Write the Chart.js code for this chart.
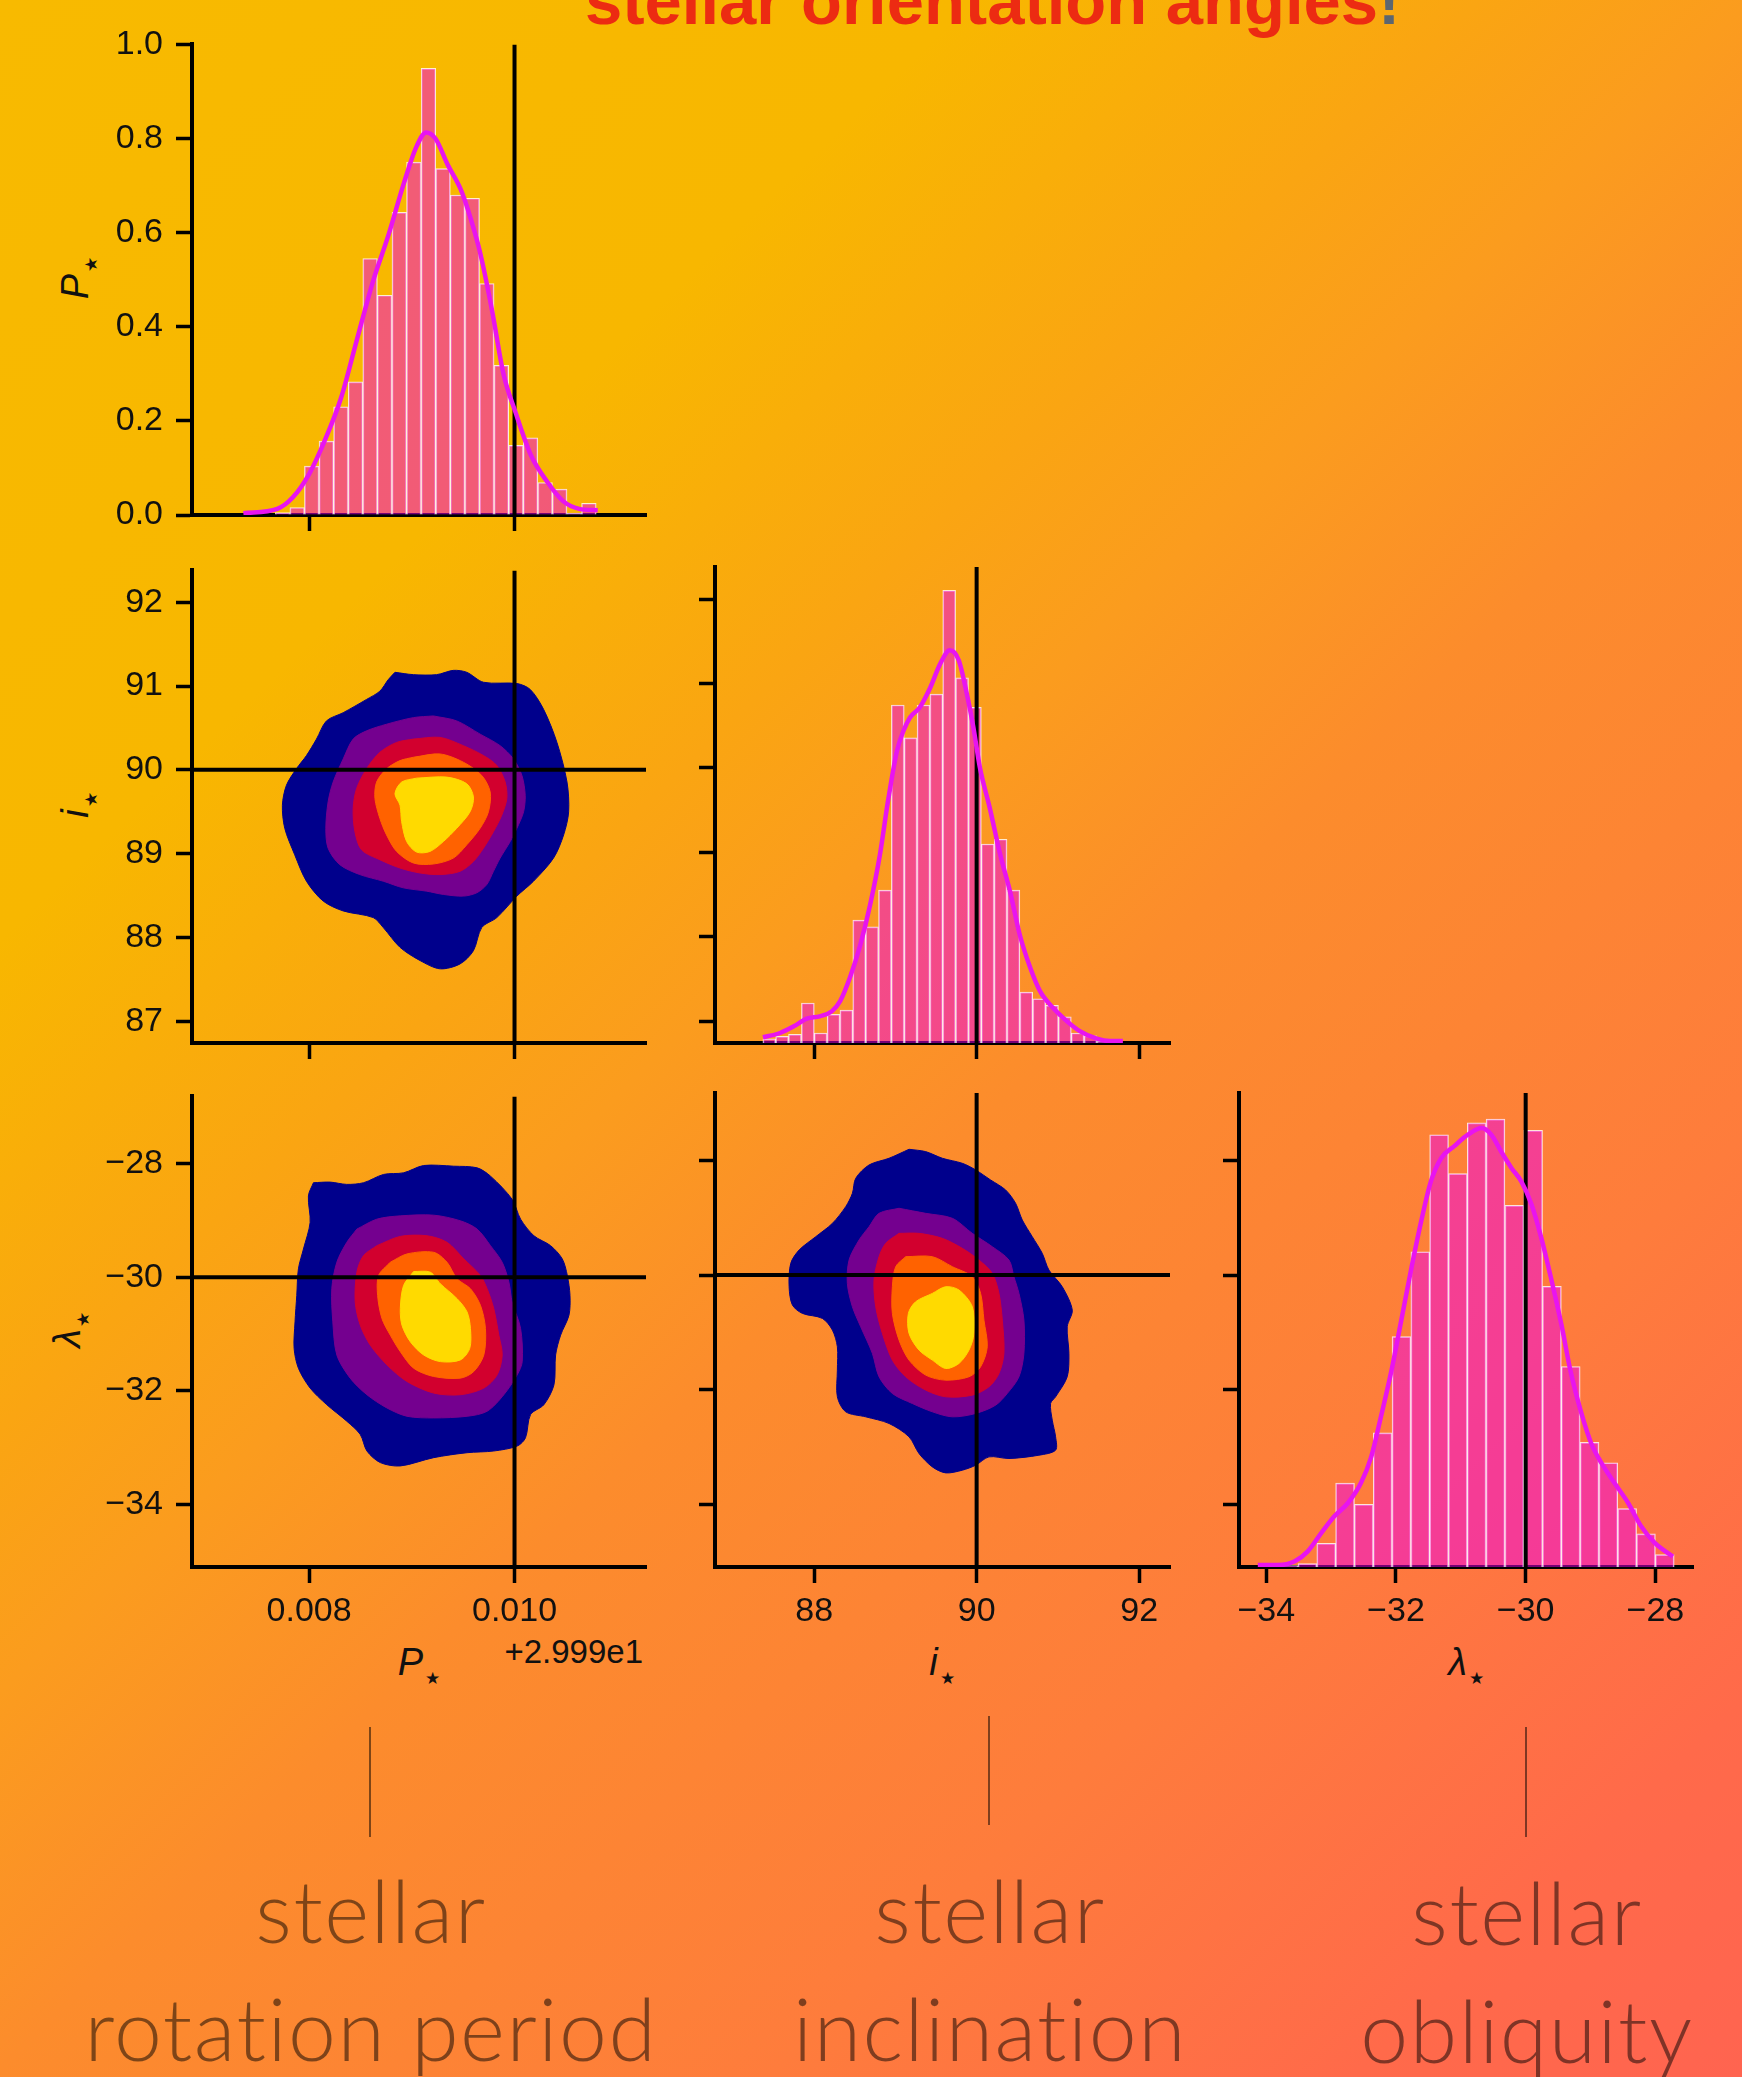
<!DOCTYPE html>
<html>
<head>
<meta charset="utf-8">
<script src="https://cdn.jsdelivr.net/npm/chart.js@4.4.1/dist/chart.umd.min.js"></script>
<style>
html, body { margin: 0; padding: 0; }
body {
  width: 1742px; height: 2077px; position: relative; overflow: hidden;
  background: linear-gradient(136deg, #F8BA00 0%, #F8B700 25%, #FAA512 38%, #FB9C1E 45%, #FC8C2C 55%, #FE7C3C 75%, #FF6A4A 90%, #FF6450 100%);
}
.pn { position: absolute; }
.title { position: absolute; left: 585px; top: -32px; font: bold 67px 'Liberation Sans', Arial, sans-serif; line-height: 66px; color: #EC2B12; white-space: nowrap; }
.title span { color: #5C6670; }
.offs { position: absolute; right: 1099px; top: 1635px; font: 33px 'Liberation Sans', Arial, sans-serif; line-height: 33px; color: #111; }
.ax { position: absolute; font: italic 38px 'Liberation Sans', Arial, sans-serif; line-height: 38px; color: #111; white-space: nowrap; }
.ax .st { font-style: normal; font-size: 17px; position: relative; top: 9px; margin-left: 2px; }
.ax.b { top: 1643px; transform: translateX(-50%); }
.ax.l { transform: translate(-50%, -50%) rotate(-90deg); }
.lbl { position: absolute; width: 760px; margin-left: -380px; text-align: center; font: 300 86px Lato, sans-serif; letter-spacing: 1.5px; font-variant-ligatures: none; line-height: 118px; color: rgba(0,0,0,0.5); }
.stem { position: absolute; width: 2px; background: rgba(0,0,0,0.5); }
</style>
</head>
<body>
<div class="title">stellar orientation angles<span>!</span></div>
<div class="offs">+2.999e1</div>
<div class="ax b" style="left:419px">P<span class="st">&#9733;</span></div>
<div class="ax b" style="left:942px">i<span class="st">&#9733;</span></div>
<div class="ax b" style="left:1466px">&#955;<span class="st">&#9733;</span></div>
<div class="ax l" style="left:79px;top:278px">P<span class="st">&#9733;</span></div>
<div class="ax l" style="left:79px;top:805px">i<span class="st">&#9733;</span></div>
<div class="ax l" style="left:71px;top:1330px">&#955;<span class="st">&#9733;</span></div>
<div class="stem" style="left:369px;top:1727px;height:110px"></div>
<div class="stem" style="left:988px;top:1716px;height:109px"></div>
<div class="stem" style="left:1525px;top:1727px;height:110px"></div>
<div class="lbl" style="left:371px;top:1851px">stellar<br>rotation period</div>
<div class="lbl" style="left:990px;top:1851px">stellar<br>inclination</div>
<div class="lbl" style="left:1527px;top:1853px">stellar<br>obliquity</div>
<script>
// P* values are relative to the axis offset of +29.99
const truthP = 0.010, truthI = 90, truthL = -30;

const pBins = [0.007742, 0.007884, 0.008026, 0.008168, 0.008310, 0.008452, 0.008594, 0.008736, 0.008878, 0.009020, 0.009162, 0.009304, 0.009446, 0.009588, 0.009730, 0.009872, 0.010014, 0.010156, 0.010298, 0.010440, 0.010582, 0.010724];
const pHist = [0.005, 0.016, 0.104, 0.157, 0.230, 0.283, 0.545, 0.467, 0.643, 0.750, 0.949, 0.736, 0.680, 0.673, 0.492, 0.318, 0.148, 0.164, 0.069, 0.055, 0.004, 0.025];
const pKdeX = [0.00736, 0.00769, 0.00784, 0.00800, 0.00815, 0.00831, 0.00846, 0.00862, 0.00877, 0.00892, 0.00904, 0.00914, 0.00923, 0.00935, 0.00947, 0.00954, 0.00966, 0.00978, 0.00989, 0.01001, 0.01016, 0.01032, 0.01047, 0.01063, 0.01081];
const pKdeY = [0.004, 0.013, 0.037, 0.087, 0.157, 0.248, 0.368, 0.495, 0.593, 0.703, 0.780, 0.813, 0.800, 0.744, 0.695, 0.653, 0.562, 0.436, 0.302, 0.218, 0.127, 0.070, 0.030, 0.013, 0.010];

const iBins = [87.448, 87.606, 87.764, 87.923, 88.081, 88.239, 88.397, 88.555, 88.713, 88.872, 89.030, 89.188, 89.346, 89.504, 89.662, 89.821, 89.979, 90.137, 90.295, 90.453, 90.611, 90.770, 90.928, 91.086, 91.244, 91.402, 91.560];
const iHist = [0.009, 0.014, 0.018, 0.084, 0.021, 0.060, 0.069, 0.258, 0.244, 0.321, 0.710, 0.641, 0.710, 0.733, 0.951, 0.767, 0.705, 0.418, 0.428, 0.321, 0.107, 0.093, 0.079, 0.055, 0.021, 0.015, 0.004];
const iKdeX = [87.37, 87.58, 87.75, 87.91, 88.07, 88.22, 88.32, 88.44, 88.57, 88.69, 88.81, 88.91, 89.02, 89.10, 89.18, 89.30, 89.43, 89.55, 89.67, 89.78, 89.88, 89.96, 90.04, 90.16, 90.29, 90.41, 90.53, 90.66, 90.78, 90.94, 91.11, 91.27, 91.48, 91.64, 91.80];
const iKdeY = [0.012, 0.021, 0.035, 0.051, 0.056, 0.067, 0.088, 0.137, 0.207, 0.291, 0.396, 0.509, 0.614, 0.656, 0.684, 0.705, 0.747, 0.796, 0.825, 0.804, 0.733, 0.663, 0.579, 0.495, 0.396, 0.319, 0.228, 0.158, 0.109, 0.074, 0.046, 0.025, 0.009, 0.004, 0.004];

const lBins = [-33.655, -33.365, -33.075, -32.785, -32.495, -32.205, -31.915, -31.625, -31.335, -31.045, -30.755, -30.465, -30.175, -29.885, -29.595, -29.305, -29.015, -28.725, -28.435, -28.145, -27.855];
const lHist = [0.003, 0.007, 0.050, 0.177, 0.132, 0.283, 0.486, 0.665, 0.912, 0.830, 0.937, 0.945, 0.763, 0.921, 0.592, 0.423, 0.263, 0.220, 0.123, 0.070, 0.026];
const lKdeX = [-34.13, -33.82, -33.56, -33.36, -33.15, -32.95, -32.74, -32.54, -32.38, -32.23, -32.07, -31.92, -31.76, -31.61, -31.46, -31.30, -31.10, -30.89, -30.68, -30.53, -30.38, -30.22, -30.07, -29.91, -29.76, -29.60, -29.45, -29.30, -29.14, -28.99, -28.83, -28.63, -28.42, -28.22, -28.01, -27.73];
const lKdeY = [0.004, 0.004, 0.012, 0.033, 0.072, 0.107, 0.135, 0.177, 0.233, 0.318, 0.414, 0.519, 0.632, 0.730, 0.814, 0.863, 0.888, 0.912, 0.926, 0.912, 0.877, 0.842, 0.814, 0.765, 0.695, 0.604, 0.512, 0.408, 0.324, 0.261, 0.219, 0.177, 0.135, 0.086, 0.051, 0.022];

// KDE contour outlines, [x, y] in data units
const piNavy = [[0.008836,91.164],[0.009015,91.136],[0.009242,91.136],[0.009405,91.187],[0.009535,91.164],[0.009698,91.045],[0.010023,91.030],[0.010153,90.959],[0.010283,90.722],[0.010413,90.327],[0.010511,89.854],[0.010527,89.499],[0.010478,89.223],[0.010380,88.947],[0.010185,88.671],[0.010023,88.493],[0.009828,88.237],[0.009681,88.118],[0.009600,87.842],[0.009470,87.684],[0.009275,87.625],[0.009080,87.724],[0.008885,87.882],[0.008722,88.118],[0.008624,88.237],[0.008332,88.316],[0.008137,88.434],[0.007974,88.671],[0.007860,88.986],[0.007763,89.302],[0.007740,89.578],[0.007779,89.815],[0.007876,90.012],[0.007974,90.170],[0.008072,90.367],[0.008169,90.584],[0.008332,90.682],[0.008559,90.840],[0.008689,90.939],[0.008771,91.077]];
const piPurple = [[0.009210,90.643],[0.009437,90.584],[0.009665,90.426],[0.009860,90.288],[0.009990,90.130],[0.010072,89.933],[0.010104,89.696],[0.010088,89.499],[0.010023,89.302],[0.009958,89.144],[0.009860,88.947],[0.009795,88.789],[0.009730,88.631],[0.009633,88.533],[0.009502,88.493],[0.009307,88.513],[0.009145,88.552],[0.008917,88.592],[0.008722,88.671],[0.008494,88.750],[0.008299,88.868],[0.008185,89.065],[0.008163,89.302],[0.008185,89.617],[0.008234,89.854],[0.008332,90.130],[0.008429,90.367],[0.008559,90.465],[0.008754,90.544],[0.009015,90.623]];
const piRed = [[0.009015,90.367],[0.009275,90.387],[0.009502,90.288],[0.009698,90.170],[0.009828,90.051],[0.009909,89.854],[0.009925,89.657],[0.009876,89.460],[0.009795,89.262],[0.009698,89.065],[0.009600,88.907],[0.009470,88.789],[0.009275,88.750],[0.009080,88.769],[0.008885,88.828],[0.008689,88.927],[0.008511,89.045],[0.008446,89.262],[0.008429,89.538],[0.008462,89.775],[0.008559,90.012],[0.008689,90.209],[0.008852,90.327]];
const piOrange = [[0.009015,90.150],[0.009275,90.189],[0.009502,90.091],[0.009681,89.933],[0.009763,89.736],[0.009746,89.499],[0.009665,89.302],[0.009535,89.105],[0.009405,88.947],[0.009210,88.876],[0.009015,88.888],[0.008852,89.026],[0.008754,89.223],[0.008689,89.420],[0.008641,89.657],[0.008657,89.854],[0.008754,90.012],[0.008885,90.110]];
const piYellow = [[0.009047,89.901],[0.009340,89.913],[0.009535,89.834],[0.009600,89.677],[0.009567,89.499],[0.009437,89.302],[0.009307,89.144],[0.009177,89.026],[0.009047,89.018],[0.008950,89.144],[0.008901,89.381],[0.008885,89.578],[0.008836,89.716],[0.008901,89.854]];

const plNavy = [[0.008042,-28.339],[0.008205,-28.328],[0.008367,-28.368],[0.008530,-28.339],[0.008725,-28.193],[0.008920,-28.164],[0.009115,-28.036],[0.009408,-28.048],[0.009636,-28.077],[0.009766,-28.223],[0.009977,-28.631],[0.010059,-28.980],[0.010189,-29.272],[0.010351,-29.446],[0.010465,-29.679],[0.010514,-29.971],[0.010540,-30.321],[0.010530,-30.670],[0.010449,-31.020],[0.010400,-31.369],[0.010384,-31.894],[0.010286,-32.244],[0.010156,-32.418],[0.010107,-32.826],[0.010026,-32.972],[0.009798,-33.059],[0.009538,-33.089],[0.009213,-33.176],[0.008888,-33.322],[0.008693,-33.263],[0.008563,-33.059],[0.008498,-32.768],[0.008367,-32.535],[0.008172,-32.244],[0.008010,-31.952],[0.007896,-31.603],[0.007854,-31.253],[0.007863,-30.787],[0.007880,-30.321],[0.007896,-29.854],[0.007945,-29.505],[0.008010,-29.038],[0.007993,-28.572]];
const plPurple = [[0.008465,-29.155],[0.008660,-28.980],[0.008888,-28.922],[0.009213,-28.910],[0.009473,-29.009],[0.009636,-29.155],[0.009766,-29.446],[0.009880,-29.738],[0.009945,-30.087],[0.009977,-30.437],[0.010059,-30.903],[0.010075,-31.486],[0.010026,-31.719],[0.009896,-32.069],[0.009733,-32.360],[0.009538,-32.448],[0.009213,-32.477],[0.008953,-32.448],[0.008758,-32.302],[0.008563,-32.069],[0.008400,-31.777],[0.008270,-31.369],[0.008231,-30.787],[0.008221,-30.204],[0.008270,-29.738],[0.008367,-29.388]];
const plRed = [[0.008660,-29.446],[0.008888,-29.283],[0.009148,-29.272],[0.009343,-29.388],[0.009506,-29.679],[0.009668,-29.971],[0.009733,-30.204],[0.009798,-30.554],[0.009847,-31.020],[0.009880,-31.369],[0.009831,-31.719],[0.009701,-31.952],[0.009473,-32.069],[0.009213,-32.040],[0.008953,-31.836],[0.008758,-31.544],[0.008595,-31.195],[0.008498,-30.845],[0.008449,-30.437],[0.008465,-29.913],[0.008530,-29.621]];
const plOrange = [[0.008790,-29.738],[0.008953,-29.592],[0.009213,-29.563],[0.009343,-29.738],[0.009441,-30.029],[0.009571,-30.204],[0.009668,-30.495],[0.009717,-30.903],[0.009701,-31.369],[0.009603,-31.661],[0.009473,-31.777],[0.009213,-31.748],[0.009018,-31.603],[0.008888,-31.311],[0.008790,-31.020],[0.008709,-30.728],[0.008667,-30.321],[0.008676,-29.971]];
const plYellow = [[0.009018,-29.901],[0.009180,-29.913],[0.009278,-30.117],[0.009441,-30.379],[0.009538,-30.612],[0.009571,-30.903],[0.009564,-31.253],[0.009473,-31.457],[0.009278,-31.486],[0.009115,-31.369],[0.008985,-31.136],[0.008904,-30.845],[0.008888,-30.554],[0.008920,-30.146]];

const ilNavy = [[89.168,-27.803],[89.373,-27.844],[89.578,-27.960],[89.824,-28.048],[89.988,-28.164],[90.172,-28.339],[90.357,-28.514],[90.480,-28.747],[90.562,-29.038],[90.685,-29.330],[90.808,-29.621],[90.890,-29.913],[91.054,-30.204],[91.177,-30.612],[91.115,-30.903],[91.136,-31.369],[91.115,-31.777],[90.972,-32.127],[90.910,-32.244],[90.931,-32.535],[90.972,-32.826],[90.972,-33.059],[90.767,-33.147],[90.398,-33.205],[90.152,-33.176],[89.988,-33.322],[89.824,-33.409],[89.619,-33.456],[89.455,-33.351],[89.291,-33.118],[89.168,-32.826],[88.922,-32.593],[88.635,-32.477],[88.389,-32.389],[88.286,-32.127],[88.286,-31.661],[88.286,-31.253],[88.225,-30.962],[88.102,-30.758],[87.856,-30.670],[87.733,-30.524],[87.692,-30.204],[87.712,-29.796],[87.815,-29.563],[88.020,-29.330],[88.225,-29.097],[88.389,-28.805],[88.471,-28.572],[88.512,-28.310],[88.676,-28.077],[88.922,-27.960]];
const ilPurple = [[89.045,-28.834],[89.373,-28.922],[89.701,-29.009],[89.947,-29.272],[90.193,-29.505],[90.398,-29.738],[90.459,-30.029],[90.521,-30.321],[90.582,-30.787],[90.582,-31.369],[90.521,-31.777],[90.377,-32.069],[90.234,-32.273],[89.988,-32.418],[89.701,-32.477],[89.455,-32.389],[89.209,-32.244],[88.963,-32.069],[88.799,-31.777],[88.717,-31.369],[88.573,-30.903],[88.471,-30.554],[88.409,-30.146],[88.430,-29.738],[88.553,-29.388],[88.676,-29.155],[88.799,-28.922]];
const ilRed = [[89.045,-29.272],[89.291,-29.272],[89.578,-29.359],[89.824,-29.534],[90.029,-29.738],[90.193,-29.971],[90.275,-30.321],[90.316,-30.787],[90.336,-31.369],[90.275,-31.719],[90.152,-31.952],[89.947,-32.098],[89.619,-32.127],[89.373,-32.010],[89.127,-31.777],[88.963,-31.486],[88.840,-31.020],[88.758,-30.554],[88.737,-30.087],[88.799,-29.679],[88.881,-29.446]];
const ilOrange = [[89.127,-29.679],[89.455,-29.679],[89.701,-29.854],[89.947,-30.029],[90.049,-30.321],[90.090,-30.787],[90.131,-31.253],[90.049,-31.603],[89.906,-31.777],[89.619,-31.836],[89.373,-31.748],[89.168,-31.486],[89.045,-31.136],[88.963,-30.670],[88.963,-30.204],[89.004,-29.854]];
const ilYellow = [[89.455,-30.321],[89.619,-30.204],[89.783,-30.262],[89.947,-30.554],[89.967,-31.020],[89.906,-31.311],[89.783,-31.544],[89.619,-31.632],[89.455,-31.486],[89.291,-31.311],[89.168,-31.020],[89.160,-30.670],[89.250,-30.466]];

// tick values and axis ranges
const densTicks = [0, 0.2, 0.4, 0.6, 0.8, 1.0];
const pTicks = [0.008, 0.010];
const iTicks = [88, 90, 92];
const iTicksY = [87, 88, 89, 90, 91, 92];
const lTicks = [-34, -32, -30, -28];
const pRange = [0.00686, 0.01128];
const iRangeX = [86.78, 92.38];
const iRangeY = [86.74, 92.38];
const lRangeX = [-34.42, -27.42];
const lRangeY = [-35.10, -26.82];

// panel boxes in page pixels
const COL_L = [192, 715, 1239], COL_R = [646, 1170, 1693];
const ROW_T = [41, 567, 1093], ROW_B = [515, 1043, 1567];
const PAD_T = 30, PAD_R = 40;
// outermost level first
const LEVEL_COLORS = ['#00008C', '#74008F', '#D2002E', '#FF6200', '#FFDA00'];

Chart.defaults.font.family = "'Liberation Sans', Arial, sans-serif";
Chart.defaults.font.size = 34;
Chart.defaults.color = '#111';

const fmtP = v => v.toFixed(3);
const fmtD = v => v.toFixed(1);
const fmtN = v => v < 0 ? '\u2212' + Math.abs(v) : String(v);

function xy(xs, ys) { return xs.map((x, k) => ({x: x, y: ys[k]})); }
function ring(a) { return a.concat([a[0]]).map(p => ({x: p[0], y: p[1]})); }

function axis(o) {
  return {
    type: 'linear', position: o.pos, min: o.range[0], max: o.range[1], bounds: 'data', offset: false,
    grid: {display: true, offset: false, drawOnChartArea: false, drawTicks: true, tickLength: 16, tickWidth: 3.5, tickColor: '#000'},
    border: {display: true, color: '#000', width: 4},
    ticks: {display: o.labels, padding: o.pos === 'bottom' ? 8 : 13, autoSkip: false, maxRotation: 0, color: '#111', callback: v => o.fmt(v)},
    afterBuildTicks: s => { s.ticks = o.ticks.map(v => ({value: v})); },
    afterFit: s => { if (o.pos === 'bottom') s.height = o.size; else s.width = o.size; }
  };
}

function panel(col, row, type, datasets, xo, yo, diag) {
  const axW = col === 0 ? COL_L[0] : 60;
  const axH = row === 2 ? 130 : 40;
  const w = COL_R[col] - COL_L[col], h = ROW_B[row] - ROW_T[row];
  const box = document.createElement('div');
  box.className = 'pn';
  box.style.left = (COL_L[col] - axW) + 'px';
  box.style.top = (ROW_T[row] - PAD_T) + 'px';
  box.style.width = (axW + w + PAD_R) + 'px';
  box.style.height = (PAD_T + h + axH) + 'px';
  const cv = document.createElement('canvas');
  box.appendChild(cv);
  document.body.appendChild(box);

  const scales = {x: axis(Object.assign({pos: 'bottom', size: axH, labels: row === 2}, xo))};
  const yAxis = axis(Object.assign({pos: 'left', size: axW, labels: col === 0}, yo));
  if (diag) {
    scales.y = {type: 'linear', display: false, min: 0, max: 1};
    scales.yt = yAxis;
  } else {
    scales.y = yAxis;
  }
  return new Chart(cv, {
    type: type,
    data: {datasets: datasets},
    options: {
      responsive: true, maintainAspectRatio: false, devicePixelRatio: 1, animation: false,
      layout: {padding: {top: PAD_T, right: PAD_R, left: 0, bottom: 0}},
      plugins: {legend: {display: false}, tooltip: {enabled: false}},
      scales: scales
    }
  });
}

function histSets(bins, hist, kx, ky, truth) {
  return [
    {type: 'line', data: xy(kx, ky), borderColor: '#E814F0', borderWidth: 4.5, pointRadius: 0, cubicInterpolationMode: 'monotone', fill: false},
    {type: 'line', data: [{x: truth, y: 0}, {x: truth, y: 1}], borderColor: '#000', borderWidth: 4, pointRadius: 0, fill: false},
    {type: 'bar', data: xy(bins, hist), backgroundColor: 'rgba(235,0,235,0.5)', borderColor: 'rgba(255,255,255,0.8)',
      borderWidth: 1, barPercentage: 1, categoryPercentage: 1}
  ];
}

function contourSets(levels, tx, ty, xr, yr) {
  const sets = [
    {data: [{x: tx, y: yr[0]}, {x: tx, y: yr[1]}], showLine: true, borderColor: '#000', borderWidth: 4, pointRadius: 0, fill: false},
    {data: [{x: xr[0], y: ty}, {x: xr[1], y: ty}], showLine: true, borderColor: '#000', borderWidth: 4, pointRadius: 0, fill: false}
  ];
  // innermost first so it is drawn on top
  for (let k = levels.length - 1; k >= 0; k--) {
    const c = LEVEL_COLORS[k];
    sets.push({data: ring(levels[k]), showLine: true, tension: 0.3, pointRadius: 0,
      borderColor: c, borderWidth: 1, backgroundColor: c, fill: 'shape'});
  }
  return sets;
}

// row 0: P* marginal
panel(0, 0, 'bar', histSets(pBins, pHist, pKdeX, pKdeY, truthP),
  {range: pRange, ticks: pTicks, fmt: fmtP},
  {range: [0, 1], ticks: densTicks, fmt: fmtD}, false);

// row 1
panel(0, 1, 'scatter', contourSets([piNavy, piPurple, piRed, piOrange, piYellow], truthP, truthI, pRange, iRangeY),
  {range: pRange, ticks: pTicks, fmt: fmtP},
  {range: iRangeY, ticks: iTicksY, fmt: fmtN}, false);
panel(1, 1, 'bar', histSets(iBins, iHist, iKdeX, iKdeY, truthI),
  {range: iRangeX, ticks: iTicks, fmt: fmtN},
  {range: iRangeY, ticks: iTicksY, fmt: fmtN}, true);

// row 2
panel(0, 2, 'scatter', contourSets([plNavy, plPurple, plRed, plOrange, plYellow], truthP, truthL, pRange, lRangeY),
  {range: pRange, ticks: pTicks, fmt: fmtP},
  {range: lRangeY, ticks: lTicks, fmt: fmtN}, false);
panel(1, 2, 'scatter', contourSets([ilNavy, ilPurple, ilRed, ilOrange, ilYellow], truthI, truthL, iRangeX, lRangeY),
  {range: iRangeX, ticks: iTicks, fmt: fmtN},
  {range: lRangeY, ticks: lTicks, fmt: fmtN}, false);
panel(2, 2, 'bar', histSets(lBins, lHist, lKdeX, lKdeY, truthL),
  {range: lRangeX, ticks: lTicks, fmt: fmtN},
  {range: lRangeY, ticks: lTicks, fmt: fmtN}, true);
</script>
</body>
</html>
